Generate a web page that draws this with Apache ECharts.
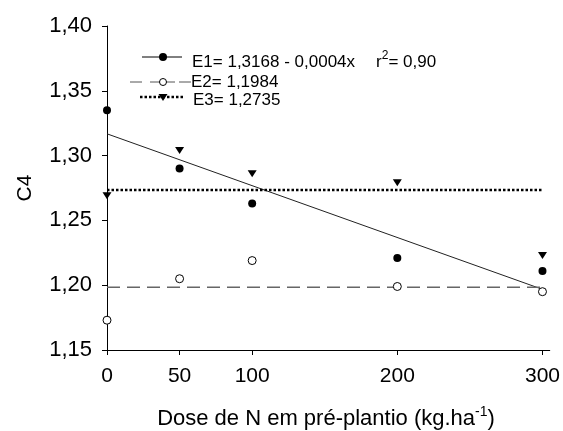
<!DOCTYPE html>
<html>
<head>
<meta charset="utf-8">
<script src="https://cdn.jsdelivr.net/npm/echarts@6/dist/echarts.min.js"></script>
<style>
  html, body { margin: 0; padding: 0; background: #fff; }
  #chart { width: 563px; height: 431px; }
</style>
</head>
<body>
<div id="chart"></div>
<script>
// N doses applied before planting (kg/ha)
const doses = [0, 50, 100, 200, 300];
// Observed C4 values per treatment
const e1Values = [1.335, 1.290, 1.263, 1.221, 1.211];
const e2Values = [1.173, 1.205, 1.219, 1.199, 1.195];
const e3Values = [1.269, 1.304, 1.286, 1.279, 1.223];
// Fitted models
const e1Intercept = 1.3168;
const e1Slope = -0.0004;
const e2Mean = 1.1984;
const e3Mean = 1.2735;
// Axis ticks
const xTicks = [0, 50, 100, 200, 300];
const yMin = 1.15, yMax = 1.40, yStep = 0.05;

const FONT = '"Liberation Sans", Arial, sans-serif';
const xEnd = doses[doses.length - 1];

const pairs = (xs, ys) => xs.map((x, i) => [x, ys[i]]);
const comma = v => v.toFixed(2).replace('.', ',');

const chart = echarts.init(document.getElementById('chart'), null, { renderer: 'canvas' });

chart.setOption({
  backgroundColor: '#fff',
  animation: false,
  grid: { left: 107, right: 10, top: 26, bottom: 81, containLabel: false },
  xAxis: {
    type: 'value',
    min: 0,
    max: 305,
    axisLine: { show: true, lineStyle: { color: '#000', width: 1 } },
    axisTick: { show: true, customValues: xTicks, length: 5, inside: false, lineStyle: { color: '#000' } },
    axisLabel: {
      customValues: xTicks, color: '#000', fontFamily: FONT, fontSize: 21, margin: 16,
      formatter: v => String(v)
    },
    splitLine: { show: false }
  },
  yAxis: {
    type: 'value',
    min: yMin,
    max: yMax,
    interval: yStep,
    name: 'C4',
    nameLocation: 'middle',
    nameGap: 71,
    nameTextStyle: { color: '#000', fontFamily: FONT, fontSize: 21 },
    axisLine: { show: true, lineStyle: { color: '#000', width: 1 } },
    axisTick: { show: true, length: 5, inside: false, lineStyle: { color: '#000' } },
    axisLabel: { color: '#000', fontFamily: FONT, fontSize: 22, margin: 15, formatter: v => comma(v) },
    splitLine: { show: false }
  },
  series: [
    {
      name: 'E1 ajuste', type: 'line', symbol: 'none', z: 2,
      data: [[0, e1Intercept], [xEnd, e1Intercept + e1Slope * xEnd]],
      lineStyle: { color: '#222', width: 1 }
    },
    {
      name: 'E2 média', type: 'line', symbol: 'none', z: 2,
      data: [[0, e2Mean], [xEnd, e2Mean]],
      lineStyle: { color: '#666', width: 1.5, type: [13, 7] }
    },
    {
      name: 'E3 média', type: 'line', symbol: 'none', z: 2,
      data: [[0, e3Mean], [xEnd, e3Mean]],
      lineStyle: { color: '#000', width: 2.5, type: [2.5, 2] }
    },
    {
      name: 'E1', type: 'scatter', symbol: 'circle', symbolSize: 8, z: 3,
      data: pairs(doses, e1Values),
      itemStyle: { color: '#000', opacity: 1 }
    },
    {
      name: 'E2', type: 'scatter', symbol: 'circle', symbolSize: 8, z: 3,
      data: pairs(doses, e2Values),
      itemStyle: { color: '#fff', borderColor: '#000', borderWidth: 1, opacity: 1 }
    },
    {
      name: 'E3', type: 'scatter', symbol: 'triangle', symbolRotate: 180, symbolSize: [9, 7], z: 3,
      data: pairs(doses, e3Values),
      itemStyle: { color: '#000', opacity: 1 }
    }
  ],
  graphic: [
    // legend: E1
    { type: 'line', shape: { x1: 142, y1: 57, x2: 182, y2: 57 }, style: { stroke: '#000', lineWidth: 1 } },
    { type: 'circle', shape: { cx: 163, cy: 57, r: 4 }, style: { fill: '#000' } },
    {
      type: 'text', x: 192, y: 62,
      style: {
        text: '{t|E1= 1,3168 - 0,0004x}{g|}{t|r}{s|2}{t|= 0,90}',
        verticalAlign: 'middle', align: 'left',
        rich: {
          t: { fontFamily: FONT, fontSize: 17, fill: '#000' },
          g: { width: 21 },
          s: { fontFamily: FONT, fontSize: 12, fill: '#000', verticalAlign: 'top', padding: [0, 0, 12, 0] }
        }
      }
    },
    // legend: E2
    { type: 'line', shape: { x1: 130, y1: 82, x2: 142, y2: 82 }, style: { stroke: '#555', lineWidth: 1 } },
    { type: 'line', shape: { x1: 150, y1: 82, x2: 175, y2: 82 }, style: { stroke: '#555', lineWidth: 1 } },
    { type: 'line', shape: { x1: 179, y1: 82, x2: 191, y2: 82 }, style: { stroke: '#555', lineWidth: 1 } },
    { type: 'circle', shape: { cx: 163, cy: 82, r: 3.5 }, style: { fill: '#fff', stroke: '#000', lineWidth: 1 } },
    {
      type: 'text', x: 191, y: 82,
      style: { text: 'E2= 1,1984', verticalAlign: 'middle', align: 'left', fontFamily: FONT, fontSize: 17, fill: '#000' }
    },
    // legend: E3
    { type: 'line', shape: { x1: 140, y1: 97, x2: 184, y2: 97 }, style: { stroke: '#000', lineWidth: 2.5, lineDash: [2.5, 2] } },
    { type: 'polygon', shape: { points: [[158.5, 94], [167.5, 94], [163, 101]] }, style: { fill: '#000' } },
    {
      type: 'text', x: 193, y: 100,
      style: { text: 'E3= 1,2735', verticalAlign: 'middle', align: 'left', fontFamily: FONT, fontSize: 17, fill: '#000' }
    },
    // x axis title
    {
      type: 'text', x: 326, y: 419,
      style: {
        text: '{t|Dose de N em pré-plantio (kg.ha}{s|-1}{t|)}',
        align: 'center', verticalAlign: 'middle',
        rich: {
          t: { fontFamily: FONT, fontSize: 22, fill: '#000' },
          s: { fontFamily: FONT, fontSize: 14, fill: '#000', verticalAlign: 'top', padding: [0, 0, 13, 0] }
        }
      }
    }
  ]
});
</script>
</body>
</html>
